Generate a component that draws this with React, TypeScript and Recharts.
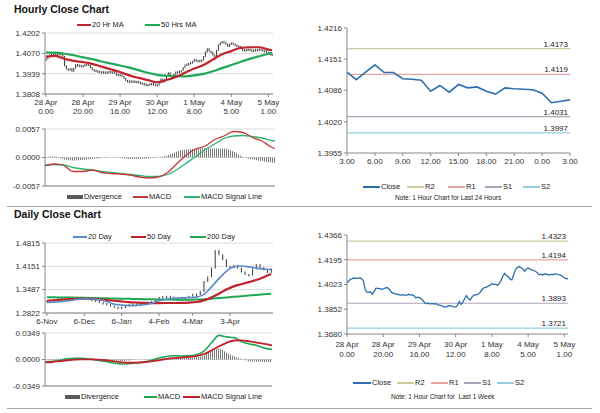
import React from "react";
import {
  ComposedChart,
  LineChart,
  Line,
  Bar,
  Area,
  XAxis,
  YAxis,
  CartesianGrid,
  ReferenceLine,
} from "recharts";

// ---- hourly (last week) ----
const hourTickIdx = [0, 20, 40, 60, 80, 100, 120];
const hourTickDate = ["28 Apr", "28 Apr", "29 Apr", "30 Apr", "1 May", "4 May", "5 May"];
const hourTickTime = ["0.00", "20.00", "16.00", "12.00", "8.00", "5.00", "1.00"];

const hourlyClose = [
  1.4035, 1.4048, 1.406, 1.4064, 1.4068, 1.4065, 1.4066, 1.407, 1.4062, 1.405,
  1.399, 1.397, 1.3968, 1.3972, 1.3955, 1.3975, 1.3998, 1.3996, 1.3994, 1.399,
  1.3992, 1.3998, 1.4002, 1.3995, 1.3978, 1.3965, 1.3962, 1.3958, 1.3955, 1.3952,
  1.395, 1.3952, 1.3948, 1.395, 1.3955, 1.395, 1.3952, 1.3945, 1.393, 1.3935,
  1.3932, 1.3922, 1.391, 1.3895, 1.389, 1.3893, 1.3888, 1.3892, 1.3887, 1.389,
  1.3884, 1.388, 1.3876, 1.3872, 1.3866, 1.387, 1.3874, 1.3876, 1.3872, 1.3868,
  1.3866, 1.388, 1.3905, 1.3885, 1.39, 1.3928, 1.3945, 1.3925, 1.3915, 1.3935,
  1.395, 1.3952, 1.3955, 1.396, 1.3978, 1.3995, 1.4002, 1.4005, 1.4012, 1.4018,
  1.403, 1.4022, 1.4025, 1.4018, 1.4028, 1.405, 1.408, 1.41, 1.4085, 1.4078,
  1.406, 1.4055, 1.409, 1.4125, 1.414, 1.4147, 1.414, 1.413, 1.4115, 1.413,
  1.4138, 1.413, 1.4124, 1.412, 1.4115, 1.4105, 1.409, 1.4095, 1.4088, 1.4098,
  1.4094, 1.4092, 1.4088, 1.4095, 1.409, 1.4098, 1.4094, 1.409, 1.4088, 1.4078,
  1.407, 1.4062, 1.4066,
];

// moving averages / MACD read every 5 hours
const hourMaIdx = [0, 5, 10, 15, 20, 25, 30, 35, 40, 45, 50, 55, 60, 65, 70, 75, 80, 85, 90, 95, 100, 105, 110, 115, 120, 122];
const ma20Hr = [
  1.405, 1.4054, 1.4035, 1.4022, 1.4014, 1.4003, 1.3985, 1.3968, 1.395, 1.3928,
  1.3912, 1.3898, 1.3884, 1.3898, 1.3918, 1.3945, 1.3972, 1.3995, 1.403, 1.4065,
  1.4085, 1.4106, 1.411, 1.411, 1.4095, 1.409,
];
const ma50Hr = [
  1.4075, 1.4075, 1.4068, 1.4058, 1.4045, 1.4033, 1.4018, 1.4005, 1.3992, 1.3978,
  1.3962, 1.3945, 1.3932, 1.3926, 1.3923, 1.3922, 1.3928, 1.3938, 1.3955, 1.3975,
  1.3995, 1.4015, 1.4035, 1.4052, 1.4068, 1.4072,
];
const macdHr = [
  -0.0017, -0.0013, -0.0016, -0.0028, -0.0028, -0.0025, -0.003, -0.0032, -0.0033, -0.0035,
  -0.0039, -0.0041, -0.0039, -0.003, -0.0012, 0.0005, 0.0017, 0.0023, 0.0036, 0.0043,
  0.0052, 0.005, 0.004, 0.0033, 0.0021, 0.0018,
];
const signalHr = [
  -0.0015, -0.0014, -0.0015, -0.002, -0.0023, -0.0025, -0.0028, -0.003, -0.0032, -0.0034,
  -0.0036, -0.0038, -0.0038, -0.0034, -0.0024, -0.0011, 0.0002, 0.0016, 0.0027, 0.0038,
  0.0043, 0.0044, 0.0042, 0.0039, 0.0034, 0.0033,
];
const divergenceHr = [
  0.0001, 0.0002, -0.0004, -0.0006, -0.0005, -0.0003, -0.0001, 0.0, -0.0001, -0.0003,
  -0.0003, -0.0002, 0.0, 0.0004, 0.0012, 0.0016, 0.0018, 0.0019, 0.0018, 0.0018,
  0.0012, 0.0001, -0.0004, -0.0007, -0.001, -0.0011,
];

// ---- last 24 hours ----
const hours24 = [
  "3.00", "4.00", "5.00", "6.00", "7.00", "8.00", "9.00", "10.00", "11.00", "12.00",
  "13.00", "14.00", "15.00", "16.00", "17.00", "18.00", "19.00", "20.00", "21.00", "22.00",
  "23.00", "0.00", "1.00", "2.00", "3.00",
];
const close24 = [
  1.4124, 1.4108, 1.4124, 1.4139, 1.4123, 1.4123, 1.411, 1.4109, 1.4107, 1.4084,
  1.4096, 1.4082, 1.4098, 1.4091, 1.4093, 1.4084, 1.4078, 1.4091, 1.4089, 1.4088,
  1.4087, 1.408, 1.406, 1.4063, 1.4066,
];
const levelNames = ["R2", "R1", "S1", "S2"];
const levels24 = [1.4173, 1.4119, 1.4031, 1.3997];
const levelsWeek = [1.4323, 1.4194, 1.3893, 1.3721];
const levelColors = ["#CFC99E", "#E8A6A2", "#ABA3B8", "#93CFE0"];

// ---- daily (every 3 days from 6-Nov) ----
const dayTickIdx = [0, 10, 20, 30, 39, 49];
const dayTickLabels = ["6-Nov", "6-Dec", "6-Jan", "4-Feb", "4-Mar", "3-Apr"];
const dailyClose = [
  1.317, 1.3185, 1.32, 1.323, 1.3255, 1.327, 1.3262, 1.3275, 1.3266, 1.3258,
  1.3245, 1.322, 1.3195, 1.3165, 1.312, 1.3095, 1.306, 1.302, 1.2985, 1.2965,
  1.299, 1.302, 1.307, 1.3085, 1.308, 1.3092, 1.311, 1.3125, 1.315, 1.321,
  1.3265, 1.329, 1.33, 1.328, 1.3265, 1.324, 1.3232, 1.325, 1.33, 1.336,
  1.3345, 1.343, 1.372, 1.385, 1.41, 1.46, 1.448, 1.434, 1.415, 1.411,
  1.418, 1.41, 1.399, 1.392, 1.3895, 1.408, 1.42, 1.412, 1.405, 1.398,
  1.408,
];
// read every 6 days
const ma20Day = [
  1.3125, 1.313, 1.3148, 1.3175, 1.3205, 1.3225, 1.3222, 1.3205, 1.315, 1.3075,
  1.3045, 1.3032, 1.3038, 1.3055, 1.31, 1.317, 1.3215, 1.324, 1.3252, 1.3262,
  1.3275, 1.335, 1.356, 1.38, 1.401, 1.414, 1.416, 1.4135, 1.41, 1.407, 1.406,
];
const ma50Day = [
  1.317, 1.3185, 1.32, 1.3215, 1.3225, 1.323, 1.3225, 1.321, 1.319, 1.317,
  1.315, 1.313, 1.3118, 1.3108, 1.3105, 1.3105, 1.3106, 1.3107, 1.311, 1.312,
  1.3135, 1.318, 1.3265, 1.337, 1.349, 1.358, 1.364, 1.37, 1.376, 1.384, 1.393,
];
const ma200Day = [
  1.327, 1.3268, 1.3265, 1.3262, 1.3258, 1.3254, 1.325, 1.3245, 1.324, 1.3235,
  1.323, 1.3225, 1.322, 1.3216, 1.3212, 1.3208, 1.3205, 1.3202, 1.32, 1.32,
  1.3205, 1.3215, 1.323, 1.3248, 1.3265, 1.3282, 1.33, 1.3318, 1.3337, 1.3355, 1.3372,
];
const macdDay = [
  -0.0031, -0.0025, -0.001, 0.0008, 0.0016, 0.0015, 0.0005, -0.001, -0.0025, -0.0045,
  -0.006, -0.0055, -0.0045, -0.0035, -0.0015, 0.002, 0.004, 0.005, 0.0046, 0.0048,
  0.0062, 0.011, 0.022, 0.0318, 0.0298, 0.0288, 0.0235, 0.0205, 0.0185, 0.015, 0.0133,
];
const signalDay = [
  -0.0039, -0.0033, -0.002, -0.001, -0.0002, 0.0002, 0.0001, -0.0002, -0.001, -0.0022,
  -0.0035, -0.0043, -0.0042, -0.0036, -0.0025, -0.001, 0.0005, 0.0018, 0.0025, 0.0035,
  0.0044, 0.007, 0.012, 0.0175, 0.022, 0.025, 0.0252, 0.024, 0.0222, 0.0205, 0.0185,
];
const divergenceDay = [
  0.0008, 0.0008, 0.001, 0.0012, 0.001, 0.0006, 0.0002, -0.0006, -0.0012, -0.0018,
  -0.002, -0.0012, -0.0004, 0.0002, 0.0008, 0.0016, 0.0022, 0.0026, 0.0024, 0.002,
  0.003, 0.005, 0.011, 0.0145, 0.009, 0.004, 0.0005, -0.0025, -0.003, -0.0032, -0.0035,
];

// ---- rows ----
const hourRows = hourlyClose.map((c, i) => {
  const k = hourMaIdx.indexOf(i);
  const open = i > 0 ? hourlyClose[i - 1] : c;
  return {
    i,
    close: c,
    rng: [Math.min(open, c), Math.max(open, c)],
    ma20: k >= 0 ? ma20Hr[k] : null,
    ma50: k >= 0 ? ma50Hr[k] : null,
  };
});
const hourMacdRows = hourMaIdx.map((i, k) => ({
  i,
  macd: macdHr[k],
  signal: signalHr[k],
  div: divergenceHr[k],
}));
const rows24 = hours24.map((h, i) => ({ h, close: close24[i] }));
const dayRows = dailyClose.map((c, i) => {
  const k = i % 2 === 0 ? i / 2 : -1;
  const open = i > 0 ? dailyClose[i - 1] : c;
  return {
    i,
    rng: [Math.min(open, c), Math.max(open, c)],
    ma20: k >= 0 ? ma20Day[k] : null,
    ma50: k >= 0 ? ma50Day[k] : null,
    ma200: k >= 0 ? ma200Day[k] : null,
  };
});
const dayMacdRows = macdDay.map((m, k) => ({
  i: k * 2,
  macd: m,
  signal: signalDay[k],
  div: divergenceDay[k],
}));

const FONT = '"Liberation Sans", Arial, sans-serif';
const AXIS = "#868686";
const GRID = "#D9D9D9";
const TXT = "#333";
const fmt4 = (v: number) => v.toFixed(4);
const yTick = { fontSize: 8, fill: TXT, fontFamily: FONT };

const PriceBar = (p: any) => {
  const { x, y, width, height } = p;
  if (x == null || y == null) return null;
  const cx = x + width / 2;
  const top = Math.min(y, y + height);
  const h = Math.max(Math.abs(height), 1.5);
  return <rect x={cx - 0.5} y={top - 0.5} width={1} height={h + 1} fill="#3a3a3a" />;
};

const HourTick = (p: any) => {
  const { x, y, payload, lift = 0 } = p;
  const k = hourTickIdx.indexOf(payload.value);
  if (k < 0) return null;
  return (
    <text x={x} y={y} textAnchor="middle" fontSize={8} fill={TXT} fontFamily={FONT}>
      <tspan x={x} dy={6 + lift}>{hourTickDate[k]}</tspan>
      <tspan x={x} dy={9 + lift / 2}>{hourTickTime[k]}</tspan>
    </text>
  );
};

function Key({ x, y, w, h = 2, color, label }: any) {
  return (
    <>
      <div style={{ position: "absolute", left: x, top: y - h / 2, width: w, height: h, background: color }} />
      <div
        style={{
          position: "absolute",
          left: x + w + 1,
          top: y - 5,
          fontSize: 7.5,
          lineHeight: "10px",
          color: "#222",
          whiteSpace: "nowrap",
        }}
      >
        {label}
      </div>
    </>
  );
}

const Hatch = ({ id }: { id: string }) => (
  <defs>
    <pattern id={id} patternUnits="userSpaceOnUse" width={2} height={4}>
      <rect x={0} y={0} width={1} height={4} fill="#7a7a7a" />
    </pattern>
  </defs>
);

export default function App() {
  return (
    <div
      style={{
        position: "absolute",
        left: 0,
        top: 0,
        width: 600,
        height: 413,
        background: "#fff",
        fontFamily: FONT,
        overflow: "hidden",
      }}
    >
      <div style={{ position: "absolute", left: 14, top: 3, fontSize: 10.5, fontWeight: "bold", color: "#111" }}>
        Hourly Close Chart
      </div>
      <div style={{ position: "absolute", left: 14, top: 208, fontSize: 10.5, fontWeight: "bold", color: "#111" }}>
        Daily Close Chart
      </div>
      <div style={{ position: "absolute", left: 7, top: 206, width: 585, height: 1, background: "#A6A6A6" }} />
      <div style={{ position: "absolute", left: 7, top: 408, width: 585, height: 1, background: "#A6A6A6" }} />

      {/* hourly price with MAs */}
      <Key x={77} y={25} w={14} h={2.5} color="#C0232B" label="20 Hr MA" />
      <Key x={145} y={25} w={15} h={2.5} color="#1FA855" label="50 Hrs MA" />
      <div style={{ position: "absolute", left: 0, top: 28 }}>
        <ComposedChart width={285} height={98} data={hourRows} margin={{ top: 5, right: 12, bottom: 0, left: 0 }} barCategoryGap={0}>
          <CartesianGrid vertical={false} stroke={GRID} />
          <XAxis
            dataKey="i"
            ticks={hourTickIdx}
            interval={0}
            tick={<HourTick />}
            height={32}
            tickSize={3}
            stroke={AXIS}
          />
          <YAxis
            width={45}
            domain={[1.3808, 1.4202]}
            ticks={[1.3808, 1.3939, 1.407, 1.4202]}
            interval={0}
            tickFormatter={fmt4}
            tick={yTick}
            tickSize={3}
            stroke={AXIS}
          />
          <Bar dataKey="rng" shape={<PriceBar />} isAnimationActive={false} />
          <Line dataKey="ma50" stroke="#1FA855" strokeWidth={2.2} dot={false} connectNulls type="monotone" isAnimationActive={false} />
          <Line dataKey="ma20" stroke="#C0232B" strokeWidth={2.2} dot={false} connectNulls type="monotone" isAnimationActive={false} />
        </ComposedChart>
      </div>

      {/* hourly MACD */}
      <div style={{ position: "absolute", left: 0, top: 124 }}>
        <ComposedChart width={285} height={70} data={hourMacdRows} margin={{ top: 5, right: 10, bottom: 6, left: 0 }}>
          <Hatch id="hatchH" />
          <CartesianGrid vertical={false} stroke={GRID} />
          <XAxis dataKey="i" type="number" domain={[0, 122]} tick={false} tickLine={false} height={2} stroke={AXIS} />
          <YAxis
            width={45}
            domain={[-0.0057, 0.0057]}
            ticks={[-0.0057, 0, 0.0057]}
            interval={0}
            tickFormatter={fmt4}
            tick={yTick}
            tickSize={3}
            stroke={AXIS}
          />
          <Area dataKey="div" type="monotone" stroke="none" fill="url(#hatchH)" fillOpacity={1} baseValue={0} isAnimationActive={false} />
          <Line dataKey="signal" stroke="#2DB36E" strokeWidth={1.3} dot={false} type="monotone" isAnimationActive={false} />
          <Line dataKey="macd" stroke="#C0393B" strokeWidth={1.3} dot={false} type="monotone" isAnimationActive={false} />
        </ComposedChart>
      </div>
      <Key x={67} y={197} w={16} h={4} color="#5a5a5a" label="Divergence" />
      <Key x={133} y={197} w={15} h={1.5} color="#C0393B" label="MACD" />
      <Key x={184} y={197} w={16} h={1.5} color="#2DB36E" label="MACD Signal Line" />

      {/* last 24 hours */}
      <div style={{ position: "absolute", left: 300, top: 23 }}>
        <LineChart width={285} height={150} data={rows24} margin={{ top: 5, right: 15, bottom: 0, left: 0 }}>
          <XAxis dataKey="h" interval={2} tick={yTick} tickSize={3} height={20} stroke={AXIS} />
          <YAxis
            width={47}
            domain={[1.3955, 1.4216]}
            ticks={[1.3955, 1.402, 1.4086, 1.4151, 1.4216]}
            interval={0}
            tickFormatter={fmt4}
            tick={yTick}
            tickSize={3}
            stroke={AXIS}
          />
          {levels24.map((v, k) => (
            <ReferenceLine
              key={levelNames[k]}
              y={v}
              stroke={levelColors[k]}
              strokeWidth={1.2}
              label={{ value: fmt4(v), position: "insideBottomRight", offset: 2, fontSize: 8, fill: "#222", fontFamily: FONT }}
            />
          ))}
          <Line dataKey="close" stroke="#2C6FAE" strokeWidth={1.6} dot={false} isAnimationActive={false} />
        </LineChart>
      </div>
      <Key x={363} y={187} w={17} color="#2C6FAE" label="Close" />
      {levelNames.map((n, k) => (
        <Key key={n} x={[407, 448, 485, 523][k]} y={187} w={17} h={1.5} color={levelColors[k]} label={n} />
      ))}
      <div style={{ position: "absolute", left: 395, top: 194, fontSize: 6.5, color: "#222", whiteSpace: "nowrap" }}>
        Note: 1 Hour Chart for Last 24 Hours
      </div>

      {/* daily price with MAs */}
      <Key x={73} y={237} w={14} color="#5A8CC8" label="20 Day" />
      <Key x={131} y={237} w={15} h={2.5} color="#C0232B" label="50 Day" />
      <Key x={190} y={237} w={16} h={2.5} color="#1FA855" label="200 Day" />
      <div style={{ position: "absolute", left: 0, top: 238 }}>
        <ComposedChart width={285} height={95} data={dayRows} margin={{ top: 5, right: 12, bottom: 0, left: 0 }} barCategoryGap={0}>
          <CartesianGrid vertical={false} stroke={GRID} />
          <XAxis
            dataKey="i"
            ticks={dayTickIdx}
            interval={0}
            tickFormatter={(v: number) => dayTickLabels[dayTickIdx.indexOf(v)]}
            tick={yTick}
            tickSize={3}
            height={20}
            stroke={AXIS}
          />
          <YAxis
            width={45}
            domain={[1.2822, 1.4815]}
            ticks={[1.2822, 1.3487, 1.4151, 1.4815]}
            interval={0}
            tickFormatter={fmt4}
            tick={yTick}
            tickSize={3}
            stroke={AXIS}
          />
          <Bar dataKey="rng" shape={<PriceBar />} isAnimationActive={false} />
          <Line dataKey="ma200" stroke="#1FA855" strokeWidth={2} dot={false} connectNulls type="monotone" isAnimationActive={false} />
          <Line dataKey="ma50" stroke="#C0232B" strokeWidth={2.2} dot={false} connectNulls type="monotone" isAnimationActive={false} />
          <Line dataKey="ma20" stroke="#5A8CC8" strokeWidth={1.6} dot={false} connectNulls type="monotone" isAnimationActive={false} />
        </ComposedChart>
      </div>

      {/* daily MACD */}
      <div style={{ position: "absolute", left: 0, top: 328 }}>
        <ComposedChart width={285} height={66} data={dayMacdRows} margin={{ top: 5, right: 13, bottom: 6, left: 0 }}>
          <Hatch id="hatchD" />
          <CartesianGrid vertical={false} stroke={GRID} />
          <XAxis dataKey="i" type="number" domain={[0, 60]} tick={false} tickLine={false} height={2} stroke={AXIS} />
          <YAxis
            width={45}
            domain={[-0.0349, 0.0349]}
            ticks={[-0.0349, 0, 0.0349]}
            interval={0}
            tickFormatter={fmt4}
            tick={yTick}
            tickSize={3}
            stroke={AXIS}
          />
          <Area dataKey="div" type="monotone" stroke="none" fill="url(#hatchD)" fillOpacity={1} baseValue={0} isAnimationActive={false} />
          <Line dataKey="macd" stroke="#1FA855" strokeWidth={1.6} dot={false} type="monotone" isAnimationActive={false} />
          <Line dataKey="signal" stroke="#C0232B" strokeWidth={1.8} dot={false} type="monotone" isAnimationActive={false} />
        </ComposedChart>
      </div>
      <Key x={65} y={397} w={15} h={4} color="#5a5a5a" label="Divergence" />
      <Key x={144} y={397} w={13} h={1.5} color="#1FA855" label="MACD" />
      <Key x={183} y={397} w={17} h={2} color="#C0232B" label="MACD Signal Line" />

      {/* last week hourly close */}
      <div style={{ position: "absolute", left: 300, top: 230 }}>
        <LineChart width={285} height={135} data={hourRows} margin={{ top: 5, right: 17, bottom: 0, left: 0 }}>
          <XAxis
            dataKey="i"
            ticks={hourTickIdx}
            interval={0}
            tick={<HourTick lift={2} />}
            tickSize={3}
            height={31}
            stroke={AXIS}
          />
          <YAxis
            width={47}
            domain={[1.368, 1.4366]}
            ticks={[1.368, 1.3852, 1.4023, 1.4195, 1.4366]}
            interval={0}
            tickFormatter={fmt4}
            tick={yTick}
            tickSize={3}
            stroke={AXIS}
          />
          {levelsWeek.map((v, k) => (
            <ReferenceLine
              key={levelNames[k]}
              y={v}
              stroke={levelColors[k]}
              strokeWidth={1.2}
              label={{ value: fmt4(v), position: "insideBottomRight", offset: 2, fontSize: 8, fill: "#222", fontFamily: FONT }}
            />
          ))}
          <Line dataKey="close" stroke="#2C6FAE" strokeWidth={1.3} dot={false} isAnimationActive={false} />
        </LineChart>
      </div>
      <Key x={353} y={383} w={18} color="#2C6FAE" label="Close" />
      {levelNames.map((n, k) => (
        <Key key={n} x={[397, 431, 464, 497][k]} y={383} w={17} h={1.5} color={levelColors[k]} label={n} />
      ))}
      <div style={{ position: "absolute", left: 391, top: 393, fontSize: 6.5, color: "#222", whiteSpace: "nowrap" }}>
        Note: 1 Hour Chart for &nbsp;Last 1 Week
      </div>
    </div>
  );
}
